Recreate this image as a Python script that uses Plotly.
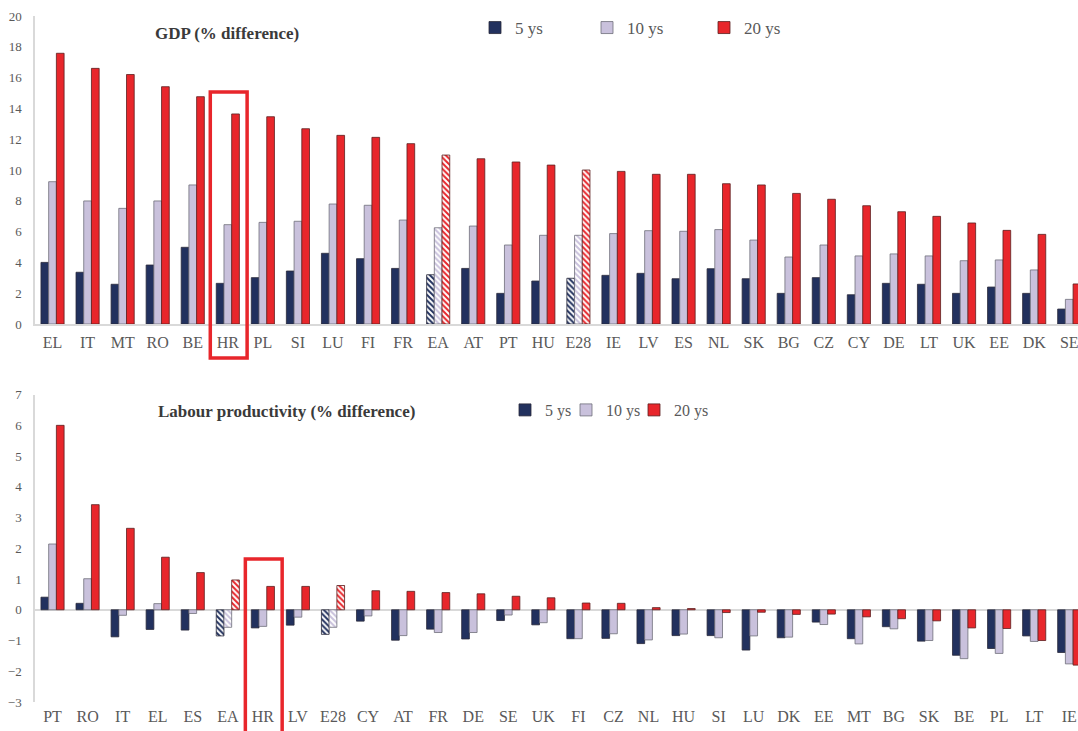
import plotly.graph_objects as go

# ---------------- data ----------------
gdp_countries = ["EL", "IT", "MT", "RO", "BE", "HR", "PL", "SI", "LU", "FI",
                 "FR", "EA", "AT", "PT", "HU", "E28", "IE", "LV", "ES", "NL",
                 "SK", "BG", "CZ", "CY", "DE", "LT", "UK", "EE", "DK", "SE"]
gdp_5 = [4.0, 3.36, 2.58, 3.83, 4.98, 2.64, 3.01, 3.44, 4.59, 4.24,
         3.61, 3.2, 3.61, 1.99, 2.79, 2.97, 3.16, 3.29, 2.94, 3.59,
         2.94, 1.99, 3.01, 1.9, 2.64, 2.58, 1.99, 2.4, 1.99, 0.97]
gdp_10 = [9.24, 7.99, 7.51, 7.99, 9.03, 6.45, 6.6, 6.67, 7.79, 7.71,
          6.75, 6.25, 6.36, 5.13, 5.76, 5.76, 5.87, 6.06, 6.02, 6.13,
          5.45, 4.35, 5.13, 4.42, 4.55, 4.42, 4.11, 4.16, 3.51, 1.6]
gdp_20 = [17.58, 16.6, 16.2, 15.41, 14.76, 13.64, 13.46, 12.68, 12.25, 12.12,
          11.71, 10.97, 10.73, 10.52, 10.32, 10.0, 9.91, 9.72, 9.72, 9.11,
          9.03, 8.48, 8.1, 7.68, 7.29, 6.99, 6.56, 6.08, 5.82, 2.6]

lp_countries = ["PT", "RO", "IT", "EL", "ES", "EA", "HR", "LV", "E28", "CY",
                "AT", "FR", "DE", "SE", "UK", "FI", "CZ", "NL", "HU", "SI",
                "LU", "DK", "EE", "MT", "BG", "SK", "BE", "PL", "LT", "IE"]
lp_5 = [0.41, 0.21, -0.88, -0.64, -0.66, -0.85, -0.59, -0.5, -0.8, -0.37,
        -0.99, -0.63, -0.95, -0.35, -0.49, -0.94, -0.93, -1.1, -0.84, -0.84,
        -1.31, -0.91, -0.4, -0.94, -0.55, -1.02, -1.48, -1.26, -0.85, -1.39]
lp_10 = [2.14, 1.01, -0.18, 0.2, -0.12, -0.57, -0.54, -0.24, -0.57, -0.2,
         -0.84, -0.74, -0.74, -0.17, -0.42, -0.94, -0.78, -0.98, -0.79, -0.91,
         -0.85, -0.89, -0.48, -1.11, -0.62, -1.0, -1.59, -1.42, -1.03, -1.76]
lp_20 = [6.0, 3.42, 2.65, 1.71, 1.21, 0.97, 0.76, 0.76, 0.79, 0.62,
         0.6, 0.56, 0.52, 0.44, 0.39, 0.22, 0.21, 0.07, 0.04, -0.09,
         -0.08, -0.15, -0.14, -0.23, -0.29, -0.36, -0.59, -0.61, -1.0, -1.8]

series_names = ["5 ys", "10 ys", "20 ys"]
aggregates = ["EA", "E28"]          # hatched bars
highlight = "HR"                    # boxed country

# ---------------- style ----------------
colors = ["#22315e", "#c9c1dc", "#e8262b"]
line_colors = ["#2a2a3a", "#6f6f7a", "#5a2020"]
FONT = "Liberation Serif"
TICK_COL = "#595959"

W, H = 1078, 731
L = 35
R = 0
PW = W - L - R


def px(xw):   # window x -> paper x
    return (xw - L) / PW


def py(yw):   # window y -> paper y
    return 1 - yw / H


fig = go.Figure()

top_legends = ["legend", "legend2", "legend3"]
bot_legends = ["legend4", "legend5", "legend6"]


def add_group(countries, values_list, xa, ya, legends):
    for name, vals, col, lc, lg in zip(series_names, values_list, colors,
                                       line_colors, legends):
        shapes = ["\\" if c in aggregates else "" for c in countries]
        fig.add_trace(go.Bar(
            x=countries, y=vals, name=name,
            xaxis=xa, yaxis=ya, legend=lg, showlegend=True,
            marker=dict(color=col,
                        line=dict(color=lc, width=0.8),
                        pattern=dict(shape=shapes, fillmode="replace",
                                     bgcolor="white", size=4, solidity=0.5)),
            hovertemplate="%{x}: %{y}<extra>" + name + "</extra>",
        ))


add_group(gdp_countries, [gdp_5, gdp_10, gdp_20], "x", "y", top_legends)
add_group(lp_countries, [lp_5, lp_10, lp_20], "x2", "y2", bot_legends)

top_dom = [py(324), py(16)]
bot_dom = [py(702), py(394.6)]
xr = [-0.5, 29.25]

axis_common = dict(showgrid=False, ticks="", fixedrange=True)


def leg(text_x, y_w, size):
    return dict(orientation="h", x=px(text_x - 36), xanchor="left",
                y=py(y_w), yanchor="middle",
                font=dict(size=size, color=TICK_COL, family=FONT),
                itemwidth=30, bgcolor="rgba(0,0,0,0)")


legend_layout = {}
for lg, tx in zip(top_legends, [511, 623, 740]):
    legend_layout[lg] = leg(tx, 28, 17)
for lg, tx in zip(bot_legends, [541, 602, 670]):
    legend_layout[lg] = leg(tx, 410, 16)

fig.update_layout(
    width=W, height=H, showlegend=True,
    margin=dict(l=L, r=R, t=0, b=0, autoexpand=False),
    paper_bgcolor="white", plot_bgcolor="white",
    barmode="group", bargap=0.34, bargroupgap=0.0,
    font=dict(family=FONT, color=TICK_COL),
    xaxis=dict(domain=[0, 1], anchor="y", range=xr, type="category",
               showline=True, linecolor="#d9d9d9", linewidth=1.5,
               tickfont=dict(size=16, color=TICK_COL, family=FONT),
               ticklabelstandoff=3, **axis_common),
    yaxis=dict(domain=top_dom, anchor="x", range=[0, 20], dtick=2,
               showline=True, linecolor="#d9d9d9", linewidth=1.5,
               zeroline=False,
               tickfont=dict(size=13, color=TICK_COL, family=FONT),
               ticklabelstandoff=9, **axis_common),
    xaxis2=dict(domain=[0, 1], anchor="y2", range=xr, type="category",
                showline=False,
                tickfont=dict(size=16, color=TICK_COL, family=FONT),
                ticklabelstandoff=3, **axis_common),
    yaxis2=dict(domain=bot_dom, anchor="x2", range=[-3, 7], dtick=1,
                showline=True, linecolor="#d9d9d9", linewidth=1.5,
                zeroline=True, zerolinecolor="#d9d9d9", zerolinewidth=1.5,
                tickfont=dict(size=13, color=TICK_COL, family=FONT),
                ticklabelstandoff=9, **axis_common),
    annotations=[
        dict(text="<b>GDP (% difference)</b>", xref="paper", yref="paper",
             x=px(227), y=py(33), showarrow=False,
             xanchor="center", yanchor="middle",
             font=dict(size=17, color="#3a3a3a", family=FONT)),
        dict(text="<b>Labour productivity (% difference)</b>", xref="paper",
             yref="paper", x=px(286), y=py(411), showarrow=False,
             xanchor="center", yanchor="middle",
             font=dict(size=17, color="#3a3a3a", family=FONT)),
    ],
    **legend_layout,
)

# highlight boxes around HR (category position from the axis, vertical extent in paper)
i_top = gdp_countries.index(highlight)
i_bot = lp_countries.index(highlight)
fig.add_shape(type="rect", xref="x", yref="paper",
              x0=i_top - 0.5, x1=i_top + 0.55,
              y0=py(358), y1=py(92),
              line=dict(color="#e8262b", width=3.5), fillcolor="rgba(0,0,0,0)")
fig.add_shape(type="rect", xref="x2", yref="paper",
              x0=i_bot - 0.5, x1=i_bot + 0.55,
              y0=-0.05, y1=py(559),
              line=dict(color="#e8262b", width=3.5), fillcolor="rgba(0,0,0,0)")

# remove the page's default body margin so the figure fills the window exactly
fig.write_html(
    "out.html",
    config={"displayModeBar": False},
    post_script="document.body.style.margin='0';document.body.style.overflow='hidden';",
)
